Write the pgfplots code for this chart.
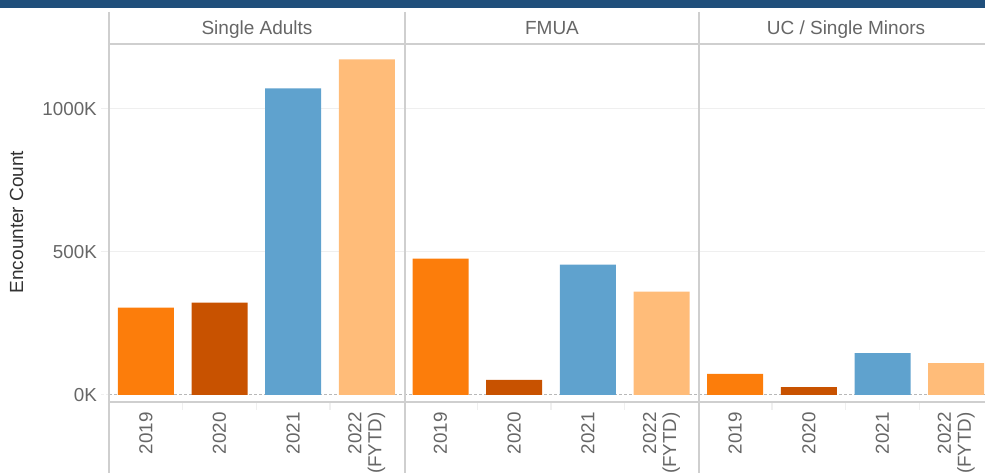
\documentclass[border=0pt]{standalone}
\usepackage{fontspec}
\setmainfont{Liberation Sans}
\usepackage{pgfplots}
\pgfplotsset{compat=1.18}
\definecolor{c19}{HTML}{FC7D0B}
\definecolor{c20}{HTML}{C85200}
\definecolor{c21}{HTML}{5FA2CE}
\definecolor{c22}{HTML}{FFBC79}
\definecolor{band}{HTML}{204F7B}
\definecolor{txt}{HTML}{666666}
\definecolor{frm}{HTML}{CFCFCF}
\definecolor{grd}{HTML}{EFEFEF}
\begin{document}
\begin{tikzpicture}[x=1pt,y=1pt]
\path[use as bounding box] (0,0) rectangle (985,473);
\clip (0,0) rectangle (985,473);
\fill[band] (0,465) rectangle (985,473);
\begin{axis}[
 at={(109pt,71pt)}, anchor=south west,
 scale only axis, width=884pt, height=358pt,
 xmin=-0.5, xmax=11.5, ymin=-25200, ymax=1226600,
 scaled y ticks=false,
 axis line style={draw=none},
 ybar, bar width=56pt,
 /pgf/number format/assume math mode=true,
 tick label style={font=\fontsize{18.8}{20}\selectfont, text=txt},
 ytick={500000,1000000}, yticklabels={500K,1000K},
 extra y ticks={0}, extra y tick labels={0K},
 extra y tick style={grid style={dash pattern=on 3pt off 2pt, color=black!28, line width=1.4pt}, major tick style={dash pattern=on 3pt off 2pt, color=black!28, line width=1.4pt}},
 ymajorgrids, grid style={color=grd, line width=1.2pt},
 ytick pos=left, xtick pos=bottom,
 tick align=outside, major tick length=8pt, minor tick length=8pt,
 major y tick style={color=grd, line width=1.2pt},
 major x tick style={draw=none},
 minor x tick style={color=grd, line width=1.2pt},
 yticklabel style={inner sep=0pt},
 yticklabel shift=4pt,
 xtick={0,...,11},
 xticklabels={2019,2020,2021,{2022\\(FYTD)},2019,2020,2021,{2022\\(FYTD)},2019,2020,2021,{2022\\(FYTD)}},
 minor xtick={0.5,1.5,2.5,4.5,5.5,6.5,8.5,9.5,10.5},
 xticklabel style={rotate=90, anchor=east, align=right, inner sep=0pt},
 xticklabel shift=2pt,
]
\addplot[fill=c19, draw=none, bar shift=0pt] coordinates {(0,305000) (4,476000) (8,73500)};
\addplot[fill=c20, draw=none, bar shift=0pt] coordinates {(1,322000) (5,52500) (9,27000)};
\addplot[fill=c21, draw=none, bar shift=0pt] coordinates {(2,1071000) (6,455000) (10,146000)};
\addplot[fill=c22, draw=none, bar shift=0pt] coordinates {(3,1173000) (7,361000) (11,111000)};
\end{axis}
\draw[frm, line width=1.3pt] (109,429) -- (985,429);
\draw[frm, line width=1.3pt] (109,71) -- (985,71);
\draw[frm, line width=1.3pt] (109,461) -- (109,0);
\draw[frm, line width=1.3pt] (405,461) -- (405,0);
\draw[frm, line width=1.3pt] (699,461) -- (699,0);
\node[anchor=base, text=txt, font=\fontsize{19}{20}\selectfont] at (257,438) {Single Adults};
\node[anchor=base, text=txt, font=\fontsize{19}{20}\selectfont] at (552,438) {FMUA};
\node[anchor=base, text=txt, font=\fontsize{19}{20}\selectfont] at (846,438) {UC / Single Minors};
\node[rotate=90, text=black!80, font=\fontsize{19}{20}\selectfont] at (16.5,251) {Encounter Count};
\end{tikzpicture}
\end{document}
